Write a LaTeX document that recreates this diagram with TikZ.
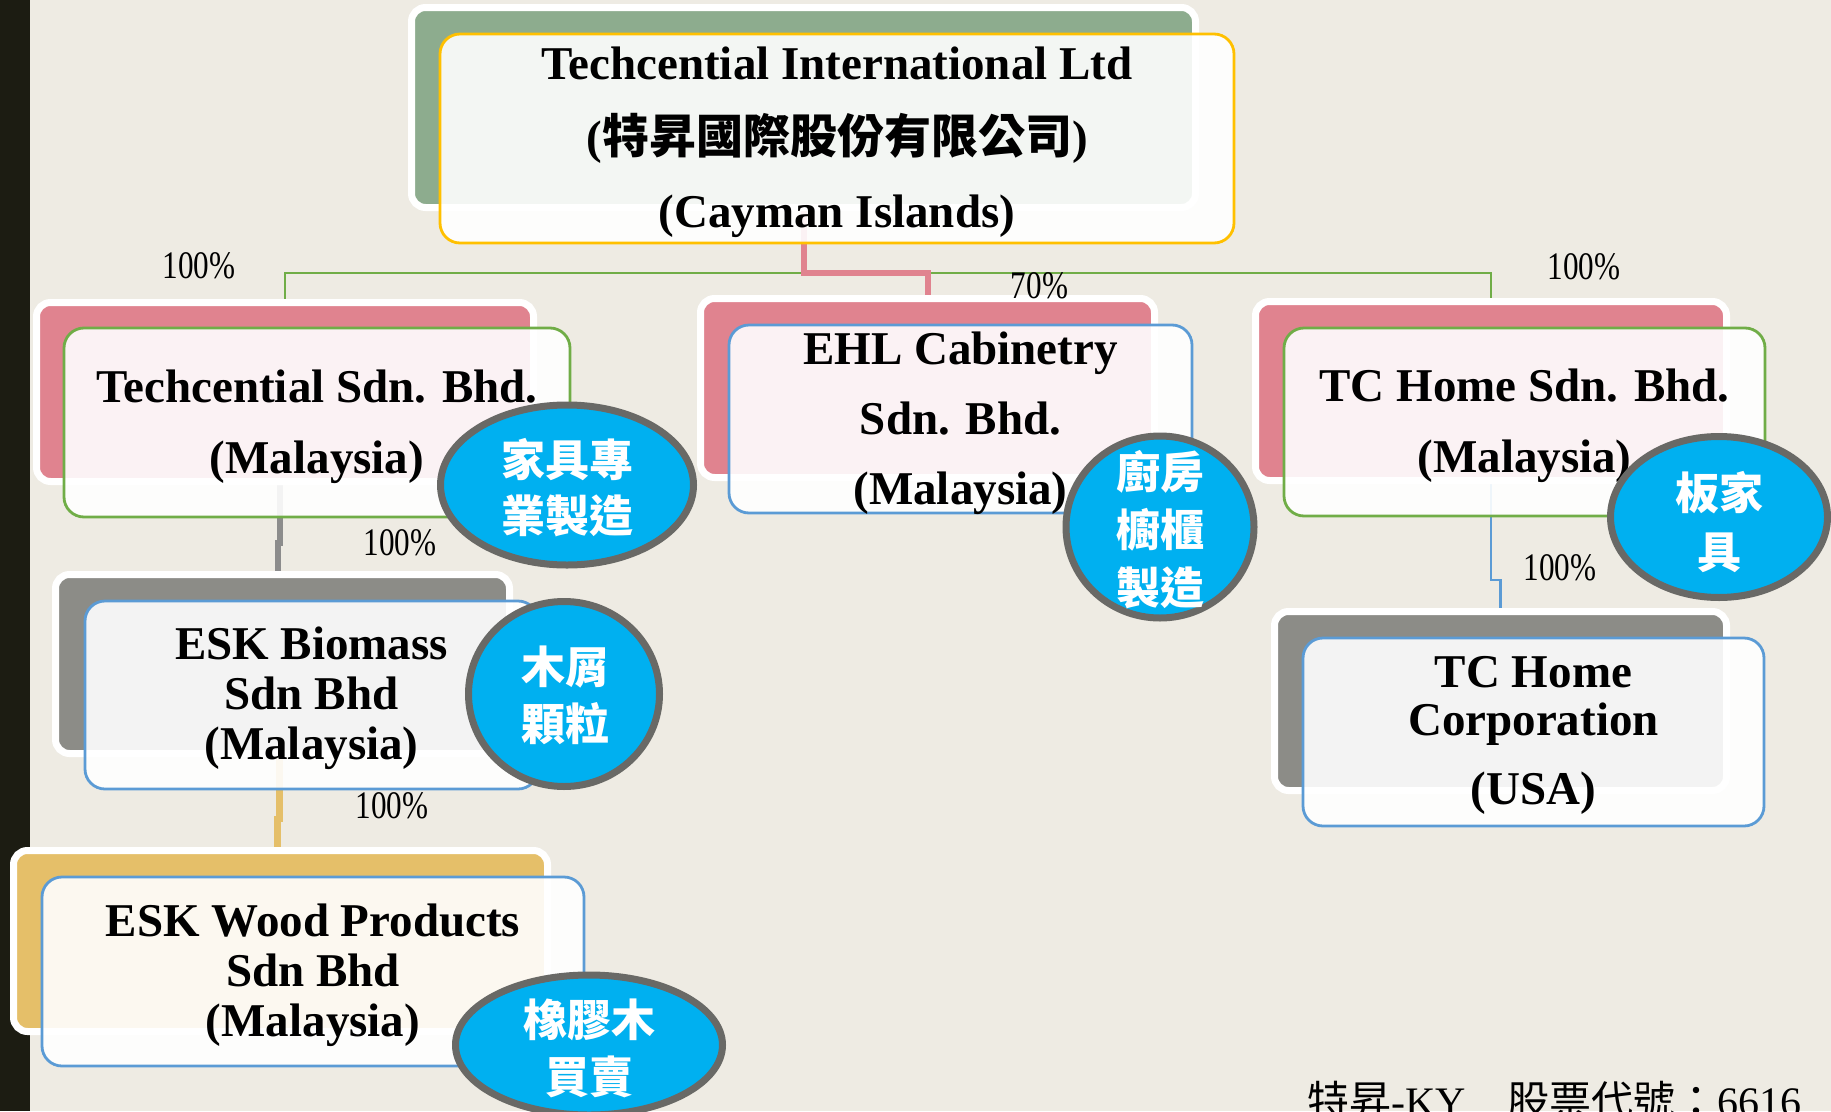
\documentclass[tikz,border=0pt]{standalone}
\usepackage{fontspec}
\setmainfont{Liberation Serif}
\newfontfamily\cjk{Noto Sans CJK TC}
\newfontfamily\pctfont{Liberation Serif}[FakeStretch=0.8]
\usetikzlibrary{shapes.geometric}
\definecolor{bgc}{HTML}{EEEBE3}
\definecolor{darkbar}{HTML}{1C1C12}
\definecolor{greenback}{HTML}{8DAC8E}
\definecolor{pinkback}{HTML}{E0838F}
\definecolor{grayback}{HTML}{8C8C87}
\definecolor{yellowback}{HTML}{E5BF69}
\definecolor{yellowline}{HTML}{FFC000}
\definecolor{greenline}{HTML}{70AD47}
\definecolor{blueline}{HTML}{5B9BD5}
\definecolor{bubblefill}{HTML}{00B0F0}
\definecolor{bubbleborder}{HTML}{696966}
\definecolor{grayconnc}{HTML}{8C8C8C}
\pgfdeclarelayer{base}
\pgfdeclarelayer{conn}
\pgfsetlayers{base,conn,main}
\tikzset{
  backbox/.style={draw=white, line width=7pt, rounded corners=14pt, inner sep=0pt},
  frontbox/.style={line width=2.8pt, rounded corners=20pt, fill=white, fill opacity=0.9, inner sep=0pt},
  boxtxt/.style={inner sep=0pt, align=center, font=\bfseries\fontsize{47}{71}\selectfont},
  bubbleshape/.style={ellipse, draw=bubbleborder, line width=7pt, fill=bubblefill, inner sep=0pt},
  bubbletxt/.style={text=white, align=center, inner sep=0pt},
  pctlabel/.style={font=\pctfont\fontsize{39}{39}\selectfont, inner sep=0pt},
  greenconn/.style={draw=greenline, line width=2.5pt},
  pinkconn/.style={draw=pinkback, line width=6pt},
  grayconn/.style={draw=grayconnc, line width=6pt},
  yellowconn/.style={draw=yellowback, line width=6.5pt},
  blueconn/.style={draw=blueline, line width=2.5pt}
}
\begin{document}
\begin{tikzpicture}[x=1pt,y=-1pt]
\begin{pgfonlayer}{base}
\fill[bgc] (0,0) rectangle (1831,1111);
\fill[darkbar] (0,0) rectangle (30,1111);
\end{pgfonlayer}
\useasboundingbox (0,0) rectangle (1831,1111);

% back boxes
\node[backbox, fill=greenback, minimum width=784pt, minimum height=200pt] (topB) at (803.5,107.5) {};
\node[backbox, fill=pinkback, minimum width=497pt, minimum height=179pt] (tsbB) at (285,392) {};
\node[backbox, fill=pinkback, minimum width=454pt, minimum height=179pt] (ehlB) at (927.5,388) {};
\node[backbox, fill=pinkback, minimum width=471pt, minimum height=179pt] (tchB) at (1491,391) {};
\node[backbox, fill=grayback, minimum width=454pt, minimum height=179pt] (eskB) at (282.5,664) {};
\node[backbox, fill=yellowback, minimum width=534pt, minimum height=181pt] (woodB) at (280.5,941) {};
\node[backbox, fill=grayback, minimum width=452pt, minimum height=179pt] (tccB) at (1500.5,701) {};

% front boxes
\node[frontbox, draw=yellowline, minimum width=794pt, minimum height=209pt] (topF) at (837,138.5) {};
\node[frontbox, draw=greenline, minimum width=506pt, minimum height=189pt] (tsbF) at (317,422.5) {};
\node[frontbox, draw=blueline, minimum width=463pt, minimum height=188pt] (ehlF) at (960.5,419) {};
\node[frontbox, draw=greenline, minimum width=481pt, minimum height=188pt] (tchF) at (1524.5,422) {};
\node[frontbox, draw=blueline, minimum width=453pt, minimum height=188pt] (eskF) at (311.5,695) {};
\node[frontbox, draw=blueline, minimum width=542pt, minimum height=189pt] (woodF) at (313,971.5) {};
\node[frontbox, draw=blueline, minimum width=461pt, minimum height=188pt] (tccF) at (1533.5,732) {};

% box texts
\node[boxtxt, font=\bfseries\fontsize{47}{74}\selectfont] (topT) at ([yshift=-4pt]topF.center)
  {Techcential International Ltd\\({\cjk\bfseries 特昇國際股份有限公司})\\(Cayman Islands)};
\node[boxtxt] (tsbT) at ([yshift=-4pt]tsbF.center) {Techcential Sdn. Bhd.\\(Malaysia)};
\node[boxtxt, font=\bfseries\fontsize{47}{70}\selectfont] (ehlT) at ([yshift=-4pt]ehlF.center)
  {EHL Cabinetry\\Sdn. Bhd.\\(Malaysia)};
\node[boxtxt] (tchT) at ([yshift=-4pt]tchF.center) {TC Home Sdn. Bhd.\\(Malaysia)};
\node[boxtxt, font=\bfseries\fontsize{47}{50}\selectfont] (eskT) at ([yshift=-3pt]eskF.center)
  {ESK Biomass\\Sdn Bhd\\(Malaysia)};
\node[boxtxt, font=\bfseries\fontsize{47}{50}\selectfont] (woodT) at ([yshift=-4pt]woodF.center)
  {ESK Wood Products\\Sdn Bhd\\(Malaysia)};
\node[boxtxt, font=\bfseries\fontsize{47}{48}\selectfont] (tccT) at ([yshift=-3.5pt]tccF.center)
  {TC Home\\Corporation\\[21pt](USA)};

% connectors
\begin{pgfonlayer}{conn}
\draw[greenconn] (topB.south) -- ++(0,62) coordinate (hub);
\draw[greenconn] (tsbB.north) |- (hub) -| (tchB.north);
\draw[pinkconn] (topB.south) -- (hub) -| (ehlB.north);
\draw[grayconn] ([xshift=-5pt]tsbB.south) -- ++(0,58) -| ([xshift=-5pt]eskB.north);
\draw[yellowconn] ([xshift=-3pt]eskB.south) -- ++(0,62) -| ([xshift=-3pt]woodB.north);
\draw[blueconn] (tchB.south) -- ++(0,96) -| (tccB.north);
\end{pgfonlayer}

% bubbles
\node[bubbleshape, minimum width=253pt, minimum height=160pt] (b1) at (567,485) {};
\node[bubbletxt, font=\cjk\bfseries\fontsize{44}{56}\selectfont] (b1t) at (567,488) {家具專\\業製造};
\node[bubbleshape, minimum width=191pt, minimum height=185pt] (b2) at (564,694) {};
\node[bubbletxt, font=\cjk\bfseries\fontsize{44}{57}\selectfont] (b2t) at (565,695.5) {木屑\\顆粒};
\node[bubbleshape, minimum width=188pt, minimum height=182pt] (b3) at (1160,527) {};
\node[bubbletxt, font=\cjk\bfseries\fontsize{44}{58}\selectfont] (b3t) at (1160,530) {廚房\\櫥櫃\\製造};
\node[bubbleshape, minimum width=217pt, minimum height=161pt] (b4) at (1719,517) {};
\node[bubbletxt, font=\cjk\bfseries\fontsize{44}{59}\selectfont] (b4t) at (1719,522) {板家\\具};
\node[bubbleshape, minimum width=267pt, minimum height=140pt] (b5) at (589,1045) {};
\node[bubbletxt, font=\cjk\bfseries\fontsize{44}{57}\selectfont] (b5t) at (589,1048) {橡膠木\\買賣};

% percentage labels
\node[pctlabel] (p1) at (199,266) {100\%};
\node[pctlabel] (p2) at (1039.5,286) {70\%};
\node[pctlabel] (p3) at (1584,267) {100\%};
\node[pctlabel] (p4) at (400,543) {100\%};
\node[pctlabel] (p5) at (392,806) {100\%};
\node[pctlabel] (p6) at (1560,568) {100\%};

% footer
\node[anchor=base west, inner sep=0pt, font=\fontsize{42}{42}\selectfont] (footer) at (1307,1116)
  {{\cjk 特昇}-KY{\cjk 　股票代號：}6616};
\end{tikzpicture}
\end{document}
